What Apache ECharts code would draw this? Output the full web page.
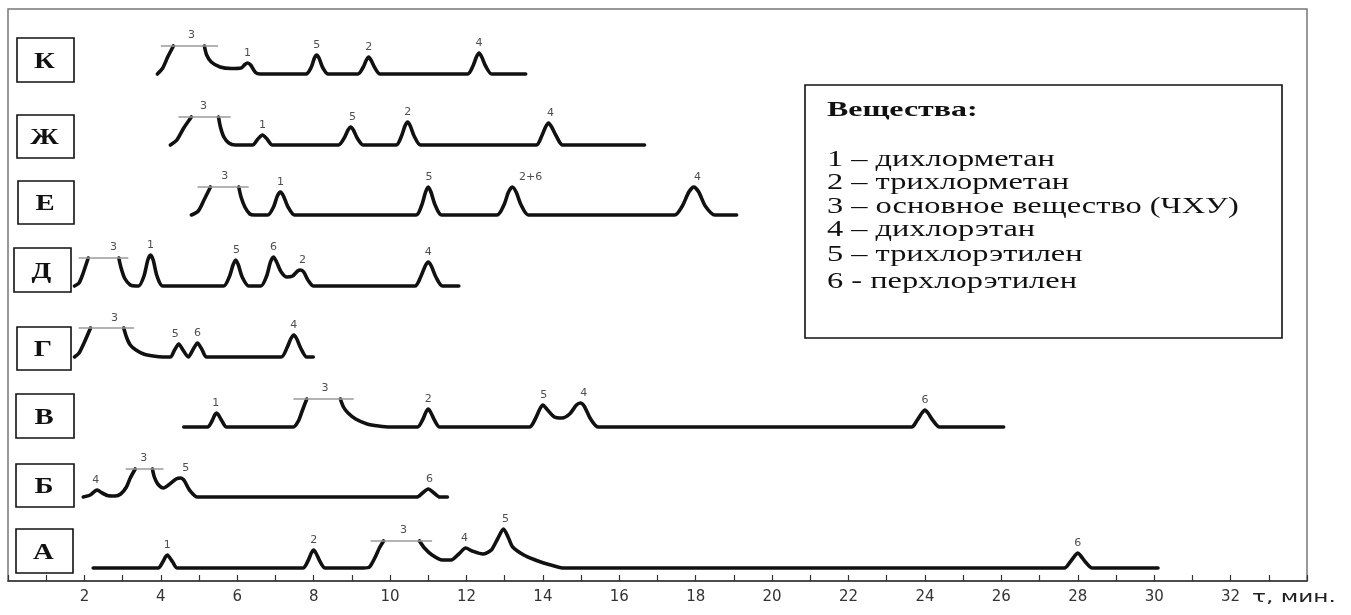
<!DOCTYPE html>
<html><head><meta charset="utf-8">
<script src="https://cdn.jsdelivr.net/npm/echarts@6/dist/echarts.min.js"></script>
<style>html,body{margin:0;padding:0;background:#fff}#c{width:1351px;height:615px}</style>
</head><body><div id="c"></div>
<script>
// ---------- DATA (time in minutes, signal in arbitrary units above baseline) ----------
const rowNames = ['К', 'Ж', 'Е', 'Д', 'Г', 'В', 'Б', 'А'];
const tickLabels = [2, 4, 6, 8, 10, 12, 14, 16, 18, 20, 22, 24, 26, 28, 30, 32];
const legendTitle = 'Вещества:';
const legendItems = ['1 – дихлорметан', '2 – трихлорметан', '3 – основное вещество (ЧХУ)', '4 – дихлорэтан', '5 – трихлорэтилен', '6 - перхлорэтилен'];

const traceK = [[3.91,0],[4.05,6],[4.18,17],[4.33,28],[4.4,null],[5.14,28],[5.2,19],[5.32,12],[5.55,7],[5.85,5.5],[6.1,6],[6.2,9.5],[6.27,11],[6.35,9],[6.48,1.5],[6.6,0],
  [7.8,0],[7.94,7],[8.02,16],[8.08,19],[8.14,16],[8.23,7],[8.38,0],
  [9.16,0],[9.3,7],[9.38,14],[9.44,17],[9.5,14],[9.59,7],[9.74,0],
  [12.03,0],[12.17,8],[12.26,17],[12.33,21],[12.4,17],[12.5,8],[12.66,0],[13.55,0]];
const traceZh = [[4.25,0],[4.42,5],[4.6,17],[4.8,28],[4.9,null],[5.51,28],[5.56,18],[5.65,8],[5.78,2],[5.95,0],
  [6.4,0],[6.54,6],[6.66,10],[6.78,6],[6.92,0],
  [8.65,0],[8.8,7],[8.9,15],[8.97,18],[9.04,15],[9.14,7],[9.3,0],
  [10.16,0],[10.3,9],[10.39,19],[10.46,23],[10.53,19],[10.63,9],[10.8,0],
  [13.83,0],[13.97,9],[14.07,18],[14.15,22],[14.23,18],[14.35,9],[14.52,0],[16.66,0]];
const traceE = [[4.8,0],[4.98,4],[5.13,15],[5.3,28],[5.4,null],[6.04,28],[6.1,18],[6.2,8],[6.33,1],[6.45,0],
  [6.8,0],[6.95,8],[7.05,19],[7.13,23],[7.21,19],[7.33,8],[7.5,0],
  [10.68,0],[10.83,10],[10.93,23],[11.0,28],[11.07,23],[11.18,10],[11.35,0],
  [12.8,0],[12.98,10],[13.1,23],[13.2,28],[13.3,23],[13.43,10],[13.62,0],
  [17.45,0],[17.65,9],[17.82,23],[17.95,28],[18.08,23],[18.25,9],[18.5,0],[19.07,0]];
const traceD = [[1.74,0],[1.86,3],[1.96,12],[2.1,28],[2.2,null],[2.9,28],[2.96,18],[3.05,8],[3.2,1],[3.35,0],
  [3.42,0],[3.56,10],[3.66,26],[3.73,31],[3.8,26],[3.9,10],[4.05,0],
  [5.64,0],[5.79,9],[5.89,21],[5.96,26],[6.03,21],[6.13,9],[6.3,0],
  [6.62,0],[6.77,10],[6.87,24],[6.95,29],[7.03,24],[7.15,14],[7.3,9],[7.45,10],[7.58,15],[7.66,16],[7.74,14],[7.85,6],[8.0,0],
  [10.65,0],[10.8,9],[10.92,20],[11.0,24],[11.08,20],[11.2,9],[11.37,0],[11.8,0]];
const traceG = [[1.74,0],[1.86,4],[1.99,14],[2.16,29],[2.3,null],[3.03,29],[3.1,20],[3.2,12],[3.35,7],[3.55,3],[3.8,1],[4.05,0],
  [4.25,0],[4.36,7],[4.47,13],[4.58,7],[4.72,0],[4.85,8],[4.96,14],[5.07,8],[5.2,0],
  [7.15,0],[7.3,9],[7.4,18],[7.48,22],[7.56,18],[7.66,9],[7.82,0],[7.99,0]];
const traceV = [[4.6,0],[5.22,0],[5.34,6],[5.41,12],[5.46,14],[5.51,12],[5.6,6],[5.72,0],
  [7.47,0],[7.6,6],[7.7,16],[7.82,28],[7.9,null],[8.7,28],[8.78,20],[8.9,14],[9.1,8],[9.4,3],[9.7,1],[10.0,0],
  [10.72,0],[10.85,7],[10.94,15],[11.0,18],[11.06,15],[11.16,7],[11.3,0],
  [13.65,0],[13.8,8],[13.92,18],[14.0,22],[14.1,18],[14.3,10],[14.5,9],[14.7,13],[14.88,22],[14.98,24],[15.08,21],[15.25,8],[15.45,0],
  [23.65,0],[23.8,7],[23.92,14],[24.0,17],[24.08,14],[24.2,7],[24.38,0],[26.06,0]];
const traceB = [[1.97,0],[2.15,2],[2.28,6],[2.34,7],[2.42,5],[2.6,1.5],[2.8,1],[2.95,3],[3.1,10],[3.2,19],[3.33,28],[3.4,null],
  [3.78,28],[3.83,20],[3.92,13],[4.07,9],[4.2,12],[4.4,18],[4.52,19],[4.62,16],[4.75,7],[4.96,0],
  [10.7,0],[10.85,4],[11.0,8],[11.15,4],[11.3,0],[11.5,0]];
const traceA = [[2.23,0],[3.93,0],[4.05,6],[4.12,11],[4.17,13],[4.22,11],[4.31,6],[4.43,0],
  [7.72,0],[7.85,7],[7.94,15],[8.0,18],[8.06,15],[8.16,7],[8.3,0],
  [9.3,0],[9.46,1],[9.6,10],[9.72,20],[9.83,27],[9.9,null],[10.77,27],[10.9,20],[11.1,13],[11.37,8],[11.6,8],[11.8,14],[11.98,20],[12.15,17],[12.43,14],[12.65,18],[12.8,28],[12.97,39],[13.1,30],[13.21,21],[13.5,13],[13.8,8],[14.02,5],[14.3,2],[14.55,0],
  [27.65,0],[27.8,6],[27.92,12],[28.0,15],[28.08,12],[28.2,6],[28.38,0],[30.1,0]];

// cut-off level of the main peak: [start, end, level]
const cutK = [4.0, 5.5, 28];
const cutZh = [4.46, 5.83, 28];
const cutE = [4.96, 6.3, 28];
const cutD = [1.85, 3.15, 28];
const cutG = [1.85, 3.3, 29];
const cutV = [7.47, 9.05, 28];
const cutB = [3.08, 4.07, 28];
const cutA = [9.49, 11.1, 27];

// peak labels: [time, peak top, text]
const labelsK = [[4.8,29,'3'],[6.27,11,'1'],[8.08,19,'5'],[9.44,17,'2'],[12.33,21,'4']];
const labelsZh = [[5.12,29,'3'],[6.66,10,'1'],[9.02,18,'5'],[10.46,23,'2'],[14.2,22,'4']];
const labelsE = [[5.67,29,'3'],[7.13,23,'1'],[11.02,28,'5'],[13.68,28,'2+6'],[18.05,28,'4']];
const labelsD = [[2.76,29,'3'],[3.73,31,'1'],[5.98,26,'5'],[6.95,29,'6'],[7.71,16,'2'],[11.0,24,'4']];
const labelsG = [[2.79,29,'3'],[4.38,13,'5'],[4.96,14,'6'],[7.48,22,'4']];
const labelsV = [[5.44,14,'1'],[8.3,29,'3'],[11.0,18,'2'],[14.02,22,'5'],[15.07,24,'4'],[24.0,17,'6']];
const labelsB = [[2.3,7,'4'],[3.55,29,'3'],[4.65,19,'5'],[11.03,8,'6']];
const labelsA = [[4.17,13,'1'],[8.0,18,'2'],[10.35,28,'3'],[11.95,20,'4'],[13.02,39,'5'],[28.0,15,'6']];

// ---------- LAYOUT ----------
const traces = [traceK, traceZh, traceE, traceD, traceG, traceV, traceB, traceA];
const cuts = [cutK, cutZh, cutE, cutD, cutG, cutV, cutB, cutA];
const labels = [labelsK, labelsZh, labelsE, labelsD, labelsG, labelsV, labelsB, labelsA];
const baselines = [74, 145, 215, 286, 357, 427, 497, 568];
const boxes = [[17,38,74,82],[17,115,74,158],[18,181,74,224],[14,248,71,292],[17,327,71,370],[16,394,74,438],[16,464,74,507],[16,529,73,573]];
const ROWH = 45;
const X_MIN = 0, X_MAX = 34;

const grids = [{left: 8, right: 44, top: 9, bottom: 34, show: true, borderColor: '#777', borderWidth: 1.5}];
const xAxes = [{
  gridIndex: 0, type: 'value', min: X_MIN, max: X_MAX, interval: 1,
  axisLine: {show: true, lineStyle: {color: '#333', width: 1.5}},
  axisTick: {show: true, inside: true, length: 6, lineStyle: {color: '#333', width: 1.2}},
  axisLabel: {show: true, margin: 9, fontSize: 15, fontFamily: 'DejaVu Sans', color: '#333',
    formatter: v => tickLabels.indexOf(v) >= 0 ? String(v) : ''},
  splitLine: {show: false}
}];
const yAxes = [{gridIndex: 0, type: 'value', min: 0, max: 1, show: false}];
const series = [];

traces.forEach((tr, i) => {
  const gi = i + 1;
  grids.push({left: 8, right: 44, top: baselines[i] - ROWH, height: ROWH, show: false});
  xAxes.push({gridIndex: gi, type: 'value', min: X_MIN, max: X_MAX, show: false});
  yAxes.push({gridIndex: gi, type: 'value', min: 0, max: ROWH, show: false});
  series.push({
    type: 'line', xAxisIndex: gi, yAxisIndex: gi, data: tr, smooth: 0.25, symbol: 'none',
    connectNulls: false, clip: false, silent: true,
    lineStyle: {color: '#111', width: 3.6, join: 'round', cap: 'round'}
  });
  const c = cuts[i];
  series.push({
    type: 'line', xAxisIndex: gi, yAxisIndex: gi, data: [[c[0], c[2]], [c[1], c[2]]], symbol: 'none',
    clip: false, silent: true, lineStyle: {color: '#9a9a9a', width: 1.4}
  });
  series.push({
    type: 'scatter', xAxisIndex: gi, yAxisIndex: gi, symbolSize: 0, clip: false, silent: true,
    data: labels[i].map(l => ({value: [l[0], l[1]], label: {formatter: l[2]}})),
    label: {show: true, position: 'top', distance: 4, fontSize: 11, fontFamily: 'DejaVu Sans', color: '#222'}
  });
});

const graphics = [];
boxes.forEach((b, i) => {
  graphics.push({type: 'rect', shape: {x: b[0], y: b[1], width: b[2] - b[0], height: b[3] - b[1]},
    style: {fill: '#fff', stroke: '#111', lineWidth: 1.6}, z: 10});
  graphics.push({type: 'text', x: (b[0] + b[2]) / 2 - 1, y: (b[1] + b[3]) / 2 + 2, scaleX: 1.25, z: 11,
    style: {text: rowNames[i], font: 'bold 23px "Liberation Serif"', fill: '#111', textAlign: 'center', textVerticalAlign: 'middle'}});
});
// legend box
graphics.push({type: 'rect', shape: {x: 805, y: 85, width: 477, height: 253}, style: {fill: '#fff', stroke: '#111', lineWidth: 1.6}, z: 10});
graphics.push({type: 'text', x: 827, y: 110, scaleX: 1.45, z: 11,
  style: {text: legendTitle, font: 'bold 22px "Liberation Serif"', fill: '#111', textAlign: 'left', textVerticalAlign: 'middle'}});
const itemY = [160, 183, 207, 230, 255, 282];
legendItems.forEach((t, k) => {
  graphics.push({type: 'text', x: 827, y: itemY[k], scaleX: 1.35, z: 11,
    style: {text: t, font: '24px "Liberation Serif"', fill: '#111', textAlign: 'left', textVerticalAlign: 'middle'}});
});
graphics.push({type: 'text', x: 1252, y: 598, scaleX: 1.45, z: 11,
  style: {text: 'τ, мин.', font: '16px "DejaVu Sans"', fill: '#222', textAlign: 'left', textVerticalAlign: 'middle'}});

const chart = echarts.init(document.getElementById('c'), null, {renderer: 'canvas'});
chart.setOption({animation: false, backgroundColor: '#fff', grid: grids, xAxis: xAxes, yAxis: yAxes, series: series, graphic: graphics});
</script></body></html>
